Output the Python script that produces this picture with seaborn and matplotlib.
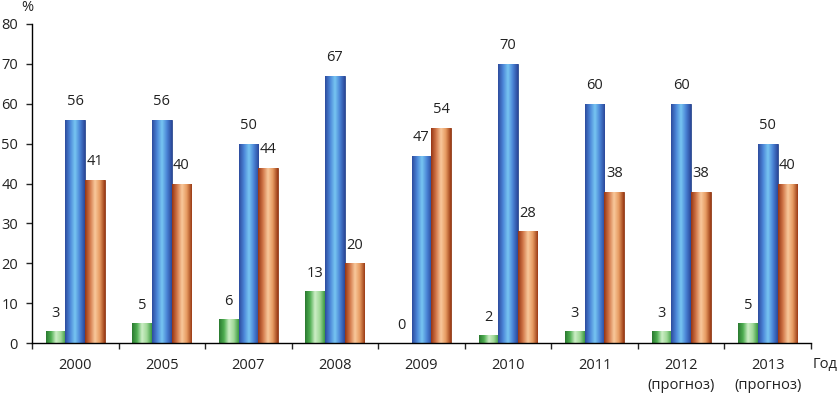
import numpy as np
import pandas as pd
import matplotlib
matplotlib.use("Agg")
import matplotlib.pyplot as plt
from matplotlib.colors import LinearSegmentedColormap
import seaborn as sns

years = ["2000", "2005", "2007", "2008", "2009", "2010", "2011", "2012\n(прогноз)", "2013\n(прогноз)"]
green_vals = [3, 5, 6, 13, 0, 2, 3, 3, 5]
blue_vals = [56, 56, 50, 67, 47, 70, 60, 60, 50]
orange_vals = [41, 40, 44, 20, 54, 28, 38, 38, 40]
series = ["g", "b", "o"]

df = pd.DataFrame({
    "year": years * 3,
    "series": ["g"] * 9 + ["b"] * 9 + ["o"] * 9,
    "value": green_vals + blue_vals + orange_vals,
})

# cylinder-like shading for each series
grads = {
    "g": ["#2b7a30", "#4fae52", "#cdeec6", "#9fd897", "#3c9a42"],
    "b": ["#2d4c9e", "#4b86d8", "#78c6f2", "#4a84d6", "#2b489a"],
    "o": ["#963614", "#d2784a", "#f9c99c", "#e69a60", "#9c3c16"],
}
edges = {"g": "#2a6e2c", "b": "#27428a", "o": "#8a3210"}

sns.set_style("white")
plt.rcParams["font.family"] = ["Open Sans", "DejaVu Sans"]

fig = plt.figure(figsize=(8.39, 3.93), dpi=100)
ax = fig.add_axes([0.0381, 0.127, 0.9285, 0.812])

sns.barplot(data=df, x="year", y="value", hue="series", hue_order=series,
            order=years, width=0.68, palette=[grads[s][2] for s in series],
            legend=False, ax=ax, saturation=1)

grad_img = np.linspace(0, 1, 64).reshape(1, -1)
for s, cont in zip(series, ax.containers):
    cmap = LinearSegmentedColormap.from_list(s, grads[s])
    for bar in cont:
        x0, y0 = bar.get_x(), bar.get_y()
        w, h = bar.get_width(), bar.get_height()
        bar.set_edgecolor(edges[s])
        bar.set_linewidth(0.6)
        if h > 0:
            im = ax.imshow(grad_img, cmap=cmap, aspect="auto",
                           extent=[x0, x0 + w, y0, y0 + h], zorder=bar.get_zorder() + 0.1)
            im.set_clip_path(bar)
        ax.annotate(f"{int(h)}", (x0 + w / 2, h), xytext=(0, 13),
                    textcoords="offset points", ha="center", va="center",
                    fontsize=10.5, color="#222222")

ax.set_xlim(-0.5, len(years) - 0.5)
ax.set_ylim(0, 80)
ax.set_yticks(np.arange(0, 81, 10))
ax.set_xticks(np.arange(-0.5, len(years), 1), minor=True)
ax.tick_params(axis="x", which="major", length=0, pad=11, labelsize=10.5, labelcolor="#222222")
ax.tick_params(axis="x", which="minor", length=4, width=1, direction="out", bottom=True)
ax.tick_params(axis="y", length=4, width=1, direction="out", left=True, pad=6,
               labelsize=10.5, labelcolor="#222222")
for lbl in ax.get_xticklabels():
    lbl.set_linespacing(1.4)
ax.set_xlabel("")
ax.set_ylabel("")
sns.despine(ax=ax)
for sp in ("left", "bottom"):
    ax.spines[sp].set_color("black")
    ax.spines[sp].set_linewidth(1)

fig.text(0.032, 0.982, "%", ha="center", va="center", fontsize=10.5, color="#222222")
fig.text(0.969, 0.072, "Год", ha="left", va="center", fontsize=10.5, color="#222222")

fig.savefig("out.png", dpi=100)
